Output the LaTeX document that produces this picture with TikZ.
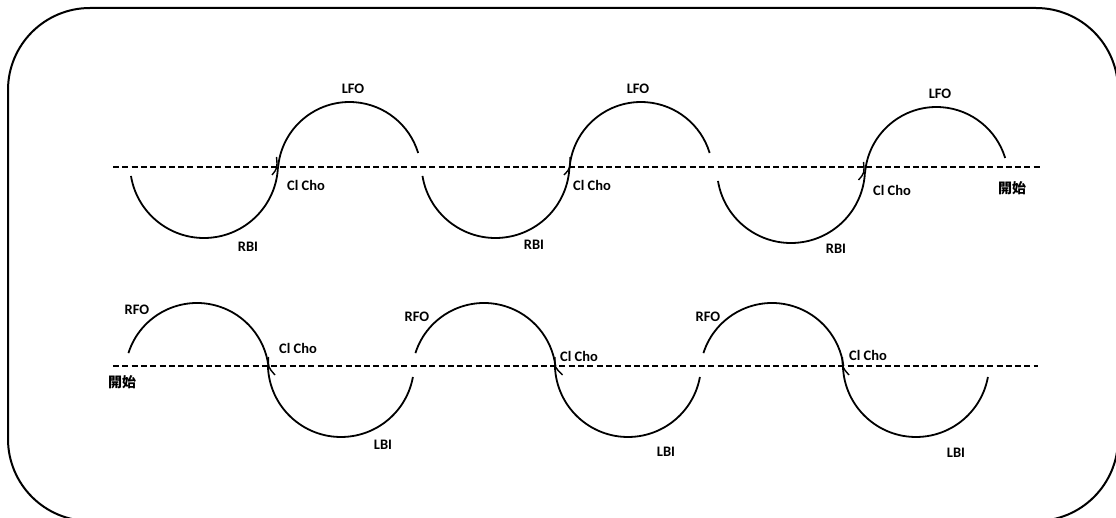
\documentclass[tikz,border=0pt]{standalone}
\usepackage{fontspec}
\setmainfont{Carlito}
\newfontfamily\cjk{Noto Sans CJK TC}
\tikzset{
  wave/.style={line width=1.8pt, black},
  basedash/.style={line width=1.8pt, dash pattern=on 6pt off 3.3pt},
  frame/.style={line width=2pt, rounded corners=82pt},
  lbl/.style={font=\fontsize{14.5}{16}\selectfont\bfseries, inner sep=0pt},
  cjklbl/.style={font=\cjk\fontsize{14}{16}\selectfont\bfseries, inner sep=0pt},
  tickmark/.style={line width=1.4pt}
}
\newcommand\warc[5]{\draw[wave] ([shift={(#4:#3pt)}]#1pt,#2pt) arc[start angle=#4,end angle=#5,radius=#3pt];}
\begin{document}
\begin{tikzpicture}[x=1pt,y=1pt]
\useasboundingbox (0,0) rectangle (1116,-518);
\clip (0,0) rectangle (1116,-518);
% frame
\draw[frame] (8,-8) rectangle (1118,-521);
% dashed base lines
\coordinate (d1s) at (113,-167); \coordinate (d1e) at (1040,-167);
\coordinate (d2s) at (113,-366); \coordinate (d2e) at (1038,-366);
\draw[basedash] (d1s) -- (d1e);
\draw[basedash] (d2s) -- (d2e);
% top row arcs
\warc{204}{-164}{74}{189.3}{357}
\warc{349.5}{-173.7}{71.7}{175.4}{16.8}
\warc{495.5}{-164}{74}{189.3}{357}
\warc{641}{-173.7}{71.7}{175.4}{16.8}
\warc{791}{-169}{74}{189.3}{357}
\warc{936.5}{-178.7}{71.7}{175.4}{16.8}
% bottom row arcs
\warc{197}{-375}{72}{162.3}{7.2}
\warc{341}{-363.9}{73.1}{181.6}{349.7}
\warc{484}{-375}{72}{162.3}{7.2}
\warc{628}{-363.9}{73.1}{181.6}{349.7}
\warc{772}{-375}{72}{162.3}{7.2}
\warc{916}{-363.9}{73.1}{181.6}{349.7}
% tick marks at the joins
\draw[tickmark] (276.5,-157) .. controls (277.5,-168) .. (272,-175);
\draw[tickmark] (570,-157) .. controls (570.5,-168) .. (564,-175);
\draw[tickmark] (863.5,-162) .. controls (864.5,-173) .. (858.5,-180);
\draw[tickmark] (268.5,-357) .. controls (268,-367) .. (275,-375);
\draw[tickmark] (555,-357) .. controls (554.5,-367) .. (562.5,-375);
\draw[tickmark] (842.5,-357) .. controls (842,-367) .. (849,-375);
% top labels
\node[lbl] (lfo1) at (353,-89) {LFO};
\node[lbl] (lfo2) at (638,-89) {LFO};
\node[lbl] (lfo3) at (940,-94) {LFO};
\node[lbl] (cc1) at (306,-185) {Cl Cho};
\node[lbl] (cc2) at (592,-185) {Cl Cho};
\node[lbl] (cc3) at (892,-190) {Cl Cho};
\node[lbl] (rbi1) at (248,-247) {RBI};
\node[lbl] (rbi2) at (534,-245) {RBI};
\node[lbl] (rbi3) at (836,-249) {RBI};
\node[cjklbl] (start1) at (1012,-188) {開始};
% bottom labels
\node[lbl] (rfo1) at (137,-310) {RFO};
\node[lbl] (rfo2) at (417,-317) {RFO};
\node[lbl] (rfo3) at (708,-317) {RFO};
\node[lbl] (cc4) at (298,-348) {Cl Cho};
\node[lbl] (cc5) at (579,-356) {Cl Cho};
\node[lbl] (cc6) at (868,-355) {Cl Cho};
\node[lbl] (lbi1) at (383,-445) {LBI};
\node[lbl] (lbi2) at (666,-452) {LBI};
\node[lbl] (lbi3) at (956,-453) {LBI};
\node[cjklbl] (start2) at (122,-382) {開始};
\end{tikzpicture}
\end{document}
